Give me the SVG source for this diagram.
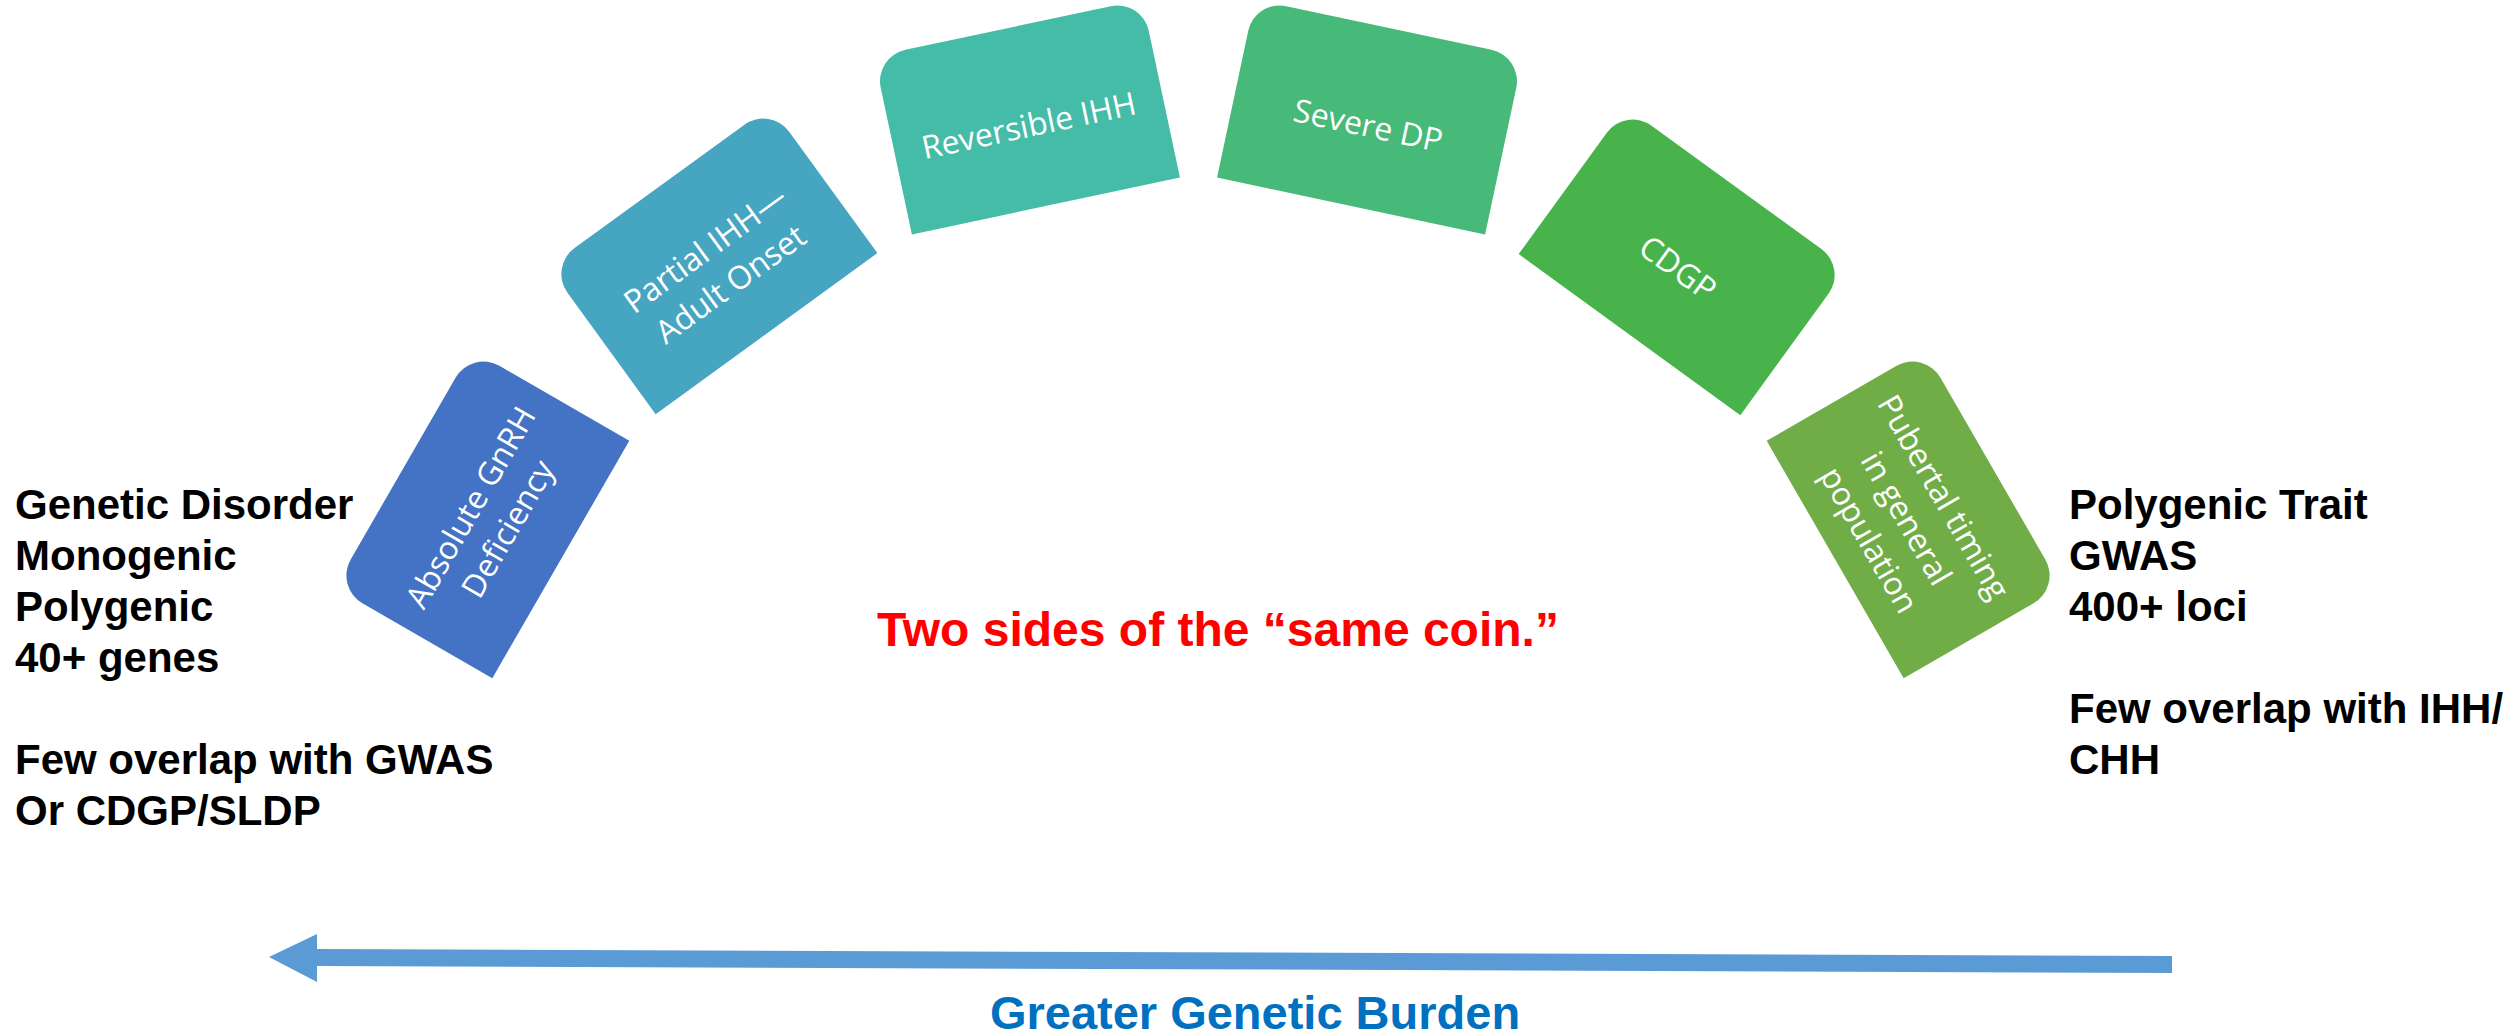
<svg xmlns="http://www.w3.org/2000/svg" width="2519" height="1035" viewBox="0 0 2519 1035">
  <defs>
    <!-- card with the two top corners rounded, centred on its origin -->
    <path id="card" d="M -137,91 L -137,-59 A 32 32 0 0 1 -105,-91 L 105,-91 A 32 32 0 0 1 137,-59 L 137,91 Z"/>
  </defs>
  <style>
    .lbl { font-family: "Open Sans", "Noto Sans", sans-serif; font-size: 32px; fill: #FFFFFF; text-anchor: middle; }
    .side { font-family: "Liberation Sans", Arial, sans-serif; font-size: 42px; font-weight: bold; fill: #000000; }
    .coin { font-family: "Liberation Sans", Arial, sans-serif; font-size: 48px; font-weight: bold; fill: #FF0000; }
    .burden { font-family: "Liberation Sans", Arial, sans-serif; font-size: 47px; font-weight: bold; fill: #0070C0; text-anchor: middle; }
  </style>
  <rect width="2519" height="1035" fill="#FFFFFF"/>

  <!-- cards arranged on an arc -->
  <g id="node-absolute" transform="translate(482,514) rotate(-60)">
    <use href="#card" fill="#4472C4"/>
    <text class="lbl" x="0" y="-2">Absolute GnRH</text>
    <text class="lbl" x="0" y="41">Deficiency</text>
  </g>
  <g id="node-partial" transform="translate(713,260) rotate(-36)">
    <use href="#card" fill="#46A5C1"/>
    <text class="lbl" x="0" y="-2">Partial IHH—</text>
    <text class="lbl" x="0" y="41">Adult Onset</text>
  </g>
  <g id="node-reversible" transform="translate(1027,117) rotate(-12)">
    <use href="#card" fill="#45BCA7"/>
    <text class="lbl" x="0" y="20">Reversible IHH</text>
  </g>
  <g id="node-severe" transform="translate(1370,117) rotate(12)">
    <use href="#card" fill="#47B978"/>
    <text class="lbl" x="0" y="20">Severe DP</text>
  </g>
  <g id="node-cdgp" transform="translate(1683,261) rotate(36)">
    <use href="#card" fill="#48B34A"/>
    <text class="lbl" x="0" y="20">CDGP</text>
  </g>
  <g id="node-pubertal" transform="translate(1914,514) rotate(60)">
    <use href="#card" fill="#70AD47"/>
    <text class="lbl" x="0" y="-23">Pubertal timing</text>
    <text class="lbl" x="0" y="20">in general</text>
    <text class="lbl" x="0" y="63">population</text>
  </g>

  <!-- side notes -->
  <g id="note-left">
    <text class="side" x="15" y="519">Genetic Disorder</text>
    <text class="side" x="15" y="570">Monogenic</text>
    <text class="side" x="15" y="621">Polygenic</text>
    <text class="side" x="15" y="672">40+ genes</text>
    <text class="side" x="15" y="774">Few overlap with GWAS</text>
    <text class="side" x="15" y="825">Or CDGP/SLDP</text>
  </g>
  <g id="note-right">
    <text class="side" x="2069" y="519">Polygenic Trait</text>
    <text class="side" x="2069" y="570">GWAS</text>
    <text class="side" x="2069" y="621">400+ loci</text>
    <text class="side" x="2069" y="723">Few overlap with IHH/</text>
    <text class="side" x="2069" y="774">CHH</text>
  </g>

  <text id="note-coin" class="coin" x="877" y="646">Two sides of the “same coin.”</text>

  <!-- burden arrow -->
  <g id="connectors">
    <polygon points="269,957 317,934 317,949 2172,956 2172,973 317,966 317,982" fill="#5B9BD5"/>
  </g>
  <text id="label-burden" class="burden" x="1255" y="1029">Greater Genetic Burden</text>
</svg>
